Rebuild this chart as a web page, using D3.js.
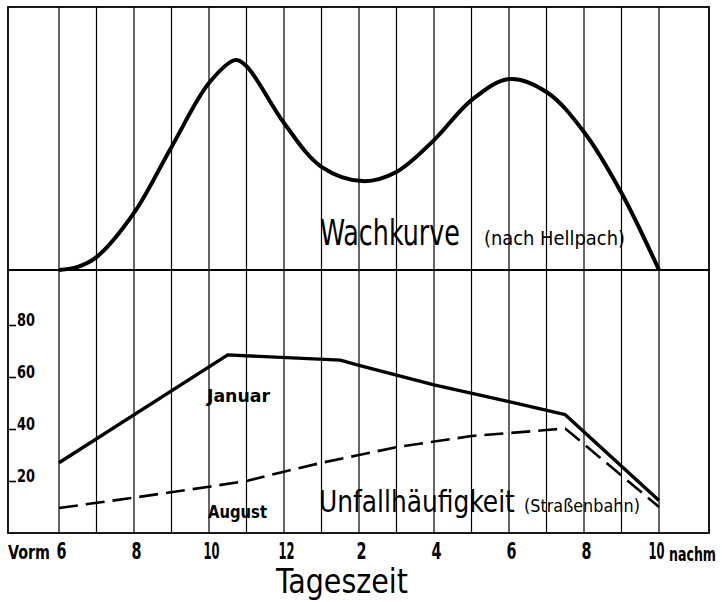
<!DOCTYPE html>
<html>
<head>
<meta charset="utf-8">
<script src="https://cdn.jsdelivr.net/npm/d3@7"></script>
<style>
  html, body { margin: 0; padding: 0; background: #fff; }
  svg { display: block; }
  text { fill: #000; }
</style>
</head>
<body>
<svg id="chart" width="722" height="602"></svg>
<script>
// ---- data ----
const wachHours  = [6, 6.5, 7, 8, 9, 10, 10.7, 11, 12, 13, 14.1, 15, 16, 17, 18, 19, 20, 21, 22];
const wachValues = [0, 1.2, 4.9, 21.7, 46.8, 71.1, 79.8, 77.5, 55.9, 39.2, 33.8, 37.3, 49.4, 64.6, 72.6, 67.7, 52.5, 29.3, 0];

const januarHours  = [6, 10.5, 13.5, 14, 16, 18, 19.5, 22];
const januarValues = [27, 68.5, 66.5, 64.5, 57, 50.5, 45.5, 12.5];

const augustHours  = [6, 8, 10, 11, 12, 13, 14, 15, 17, 19, 19.5, 22];
const augustValues = [9.6, 13.6, 17.8, 20, 23.6, 27, 30, 33, 37.3, 39.6, 40.2, 10];

const hourTicks = [6, 8, 10, 12, 14, 16, 18, 20, 22];
const hourLabels = ["6", "8", "10", "12", "2", "4", "6", "8", "10"];
const yTicks = [20, 40, 60, 80];

// ---- layout ----
const svg = d3.select("#chart");
const frame = {left: 8, right: 709, top: 7, mid: 270, bottom: 533};

const x = d3.scaleLinear().domain([6, 22]).range([59, 659]);
const yTop = d3.scaleLinear().domain([0, 100]).range([frame.mid, frame.top]);
const yLow = d3.scaleLinear().domain([0, 100]).range([frame.bottom, frame.bottom - 260]);

const NARROW = "'Liberation Sans Narrow', 'DejaVu Sans Condensed', sans-serif";

// squeeze a text horizontally to a target width (scales about its anchor point)
function squeeze(node, target, px, py) {
  const w = node.getComputedTextLength();
  const k = w > 0 ? target / w : 1;
  d3.select(node).attr("x", 0).attr("y", 0)
    .attr("transform", `translate(${px},${py}) scale(${k},1)`);
}

// hourly grid lines
svg.append("g").selectAll("line")
  .data(d3.range(6, 23))
  .join("line")
  .attr("x1", d => x(d)).attr("x2", d => x(d))
  .attr("y1", frame.top).attr("y2", frame.bottom)
  .attr("stroke", "#000").attr("stroke-width", 1.2);

// frame
svg.append("rect")
  .attr("x", frame.left).attr("y", frame.top)
  .attr("width", frame.right - frame.left).attr("height", frame.bottom - frame.top)
  .attr("fill", "none").attr("stroke", "#000").attr("stroke-width", 1.8);
svg.append("line")
  .attr("x1", frame.left).attr("x2", frame.right)
  .attr("y1", frame.mid).attr("y2", frame.mid)
  .attr("stroke", "#000").attr("stroke-width", 1.8);

// Wachkurve
const wachData = wachHours.map((h, i) => [h, wachValues[i]]);
svg.append("path")
  .datum(wachData)
  .attr("fill", "none").attr("stroke", "#000").attr("stroke-width", 4)
  .attr("stroke-linejoin", "round")
  .attr("d", d3.line().x(d => x(d[0])).y(d => yTop(d[1])).curve(d3.curveCatmullRom.alpha(0.5)));

// Januar
const janData = januarHours.map((h, i) => [h, januarValues[i]]);
svg.append("path")
  .datum(janData)
  .attr("fill", "none").attr("stroke", "#000").attr("stroke-width", 3.4)
  .attr("stroke-linejoin", "round")
  .attr("d", d3.line().x(d => x(d[0])).y(d => yLow(d[1])));

// August (dashed)
const augData = augustHours.map((h, i) => [h, augustValues[i]]);
svg.append("path")
  .datum(augData)
  .attr("fill", "none").attr("stroke", "#000").attr("stroke-width", 2.6)
  .attr("stroke-dasharray", "19 8")
  .attr("d", d3.line().x(d => x(d[0])).y(d => yLow(d[1])));

// y axis (lower panel)
const yAxis = svg.append("g")
  .attr("transform", `translate(${frame.left},0)`)
  .call(d3.axisRight(yLow).tickValues(yTicks).tickSize(8).tickFormat(d3.format("d")));
yAxis.select(".domain").remove();
yAxis.selectAll(".tick line").attr("stroke", "#000").attr("stroke-width", 1.6);
yAxis.selectAll(".tick text")
  .attr("text-anchor", "start")
  .attr("dy", "0")
  .attr("font-family", NARROW)
  .attr("font-weight", "bold").attr("font-size", 18)
  .style("fill", "#000")
  .each(function () { squeeze(this, 18, 9, 0); });

// x axis
const xAxis = svg.append("g")
  .attr("transform", `translate(0,${frame.bottom})`)
  .call(d3.axisBottom(x).tickValues(hourTicks).tickSize(0)
        .tickFormat((d, i) => hourLabels[i]));
xAxis.select(".domain").remove();
xAxis.selectAll(".tick text")
  .attr("dy", "0")
  .attr("font-family", NARROW)
  .attr("font-weight", "bold").attr("font-size", 23)
  .style("fill", "#000")
  .each(function (d, i) {
    const last = i === hourLabels.length - 1;
    squeeze(this, hourLabels[i].length === 1 ? 10 : 16, last ? -3 : 2, 26);
  });

function label(t, px, py, size, len, bold, anchor) {
  const node = svg.append("text")
    .attr("font-family", NARROW).attr("font-size", size)
    .attr("font-weight", bold ? "bold" : "normal")
    .attr("text-anchor", anchor || "start")
    .text(t).node();
  squeeze(node, len, px, py);
}

label("Vorm", x(6) - 9, frame.bottom + 26, 20, 42, true, "end");
label("nachm", x(22) + 10, frame.bottom + 28, 19, 47, true);
label("Tageszeit", 276, 593, 33, 132, false);

// panel labels
label("Wachkurve", 320, 245, 35, 140, false);
label("(nach Hellpach)", 484, 245, 19, 141, false);
label("Unfallhäufigkeit", 319, 512, 31, 196, false);
label("(Straßenbahn)", 524, 512, 18, 116, false);
label("Januar", 207, 402, 18, 63, true);
label("August", 208, 518, 18, 59, true);
</script>
</body>
</html>
